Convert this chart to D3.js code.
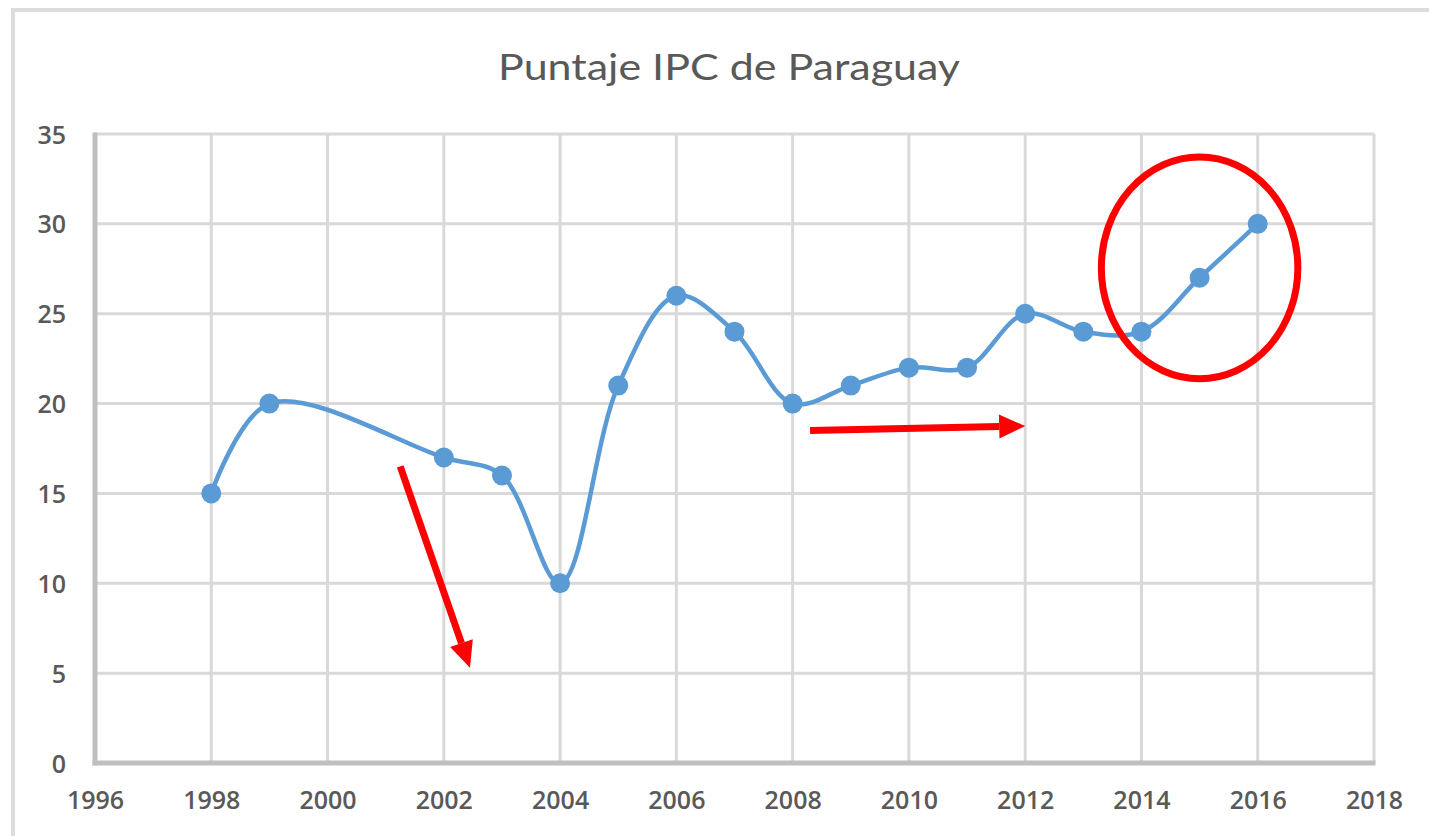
<!DOCTYPE html>
<html><head><meta charset="utf-8">
<script src="https://cdn.jsdelivr.net/npm/d3@7"></script>
<style>html,body{margin:0;padding:0;background:#fff;}svg{display:block;}</style>
</head><body>
<script>
const years  = [1998,1999,2002,2003,2004,2005,2006,2007,2008,2009,2010,2011,2012,2013,2014,2015,2016];
const scores = [15,20,17,16,10,21,26,24,20,21,22,22,25,24,24,27,30];
const xTicks = [1996,1998,2000,2002,2004,2006,2008,2010,2012,2014,2016,2018];
const yTicks = [0,5,10,15,20,25,30,35];
const title = "Puntaje IPC de Paraguay";
// annotations in data space
const arrows = [
  {from:[2001.25,16.5], to:[2002.45,5.3]},
  {from:[2008.3,18.5], to:[2012.0,18.75]}
];
const ellipse = {cx:2015.0, cy:27.55, rxYears:1.69, ryUnits:6.17};

const W=1429,H=836;
const svg=d3.select("body").append("svg").attr("width",W).attr("height",H);
svg.append("rect").attr("x",13).attr("y",10).attr("width",W+20).attr("height",H+20)
  .attr("fill","#fff").attr("stroke","#dcdcdc").attr("stroke-width",4);

const x=d3.scaleLinear().domain([1996,2018]).range([95,1374]);
const y=d3.scaleLinear().domain([0,35]).range([763,134]);

// gridlines
svg.append("g").selectAll("line").data(yTicks.filter(d=>d>0)).join("line")
  .attr("x1",x(1996)).attr("x2",x(2018)).attr("y1",d=>y(d)).attr("y2",d=>y(d))
  .attr("stroke","#d9d9d9").attr("stroke-width",3);
svg.append("g").selectAll("line").data(xTicks.filter(d=>d>1996)).join("line")
  .attr("x1",d=>x(d)).attr("x2",d=>x(d)).attr("y1",y(0)).attr("y2",y(35))
  .attr("stroke","#d9d9d9").attr("stroke-width",3);

// axes lines
svg.append("line").attr("x1",x(1996)).attr("x2",x(1996)).attr("y1",y(35)-1.5).attr("y2",y(0)+2.5)
  .attr("stroke","#bfbfbf").attr("stroke-width",5);
svg.append("line").attr("x1",x(1996)-2.5).attr("x2",x(2018)+1.5).attr("y1",y(0)).attr("y2",y(0))
  .attr("stroke","#bfbfbf").attr("stroke-width",5);

// axis labels
const xAxis=d3.axisBottom(x).tickValues(xTicks).tickFormat(d3.format("d")).tickSize(0).tickPadding(0);
const gx=svg.append("g").attr("transform",`translate(0,${y(0)})`).call(xAxis);
gx.select(".domain").remove();
gx.selectAll("text").attr("y",46).attr("dy",0)
  .attr("font-family","'Open Sans', sans-serif").attr("font-weight",600).attr("font-size",25).attr("fill","#595959");
const yAxis=d3.axisLeft(y).tickValues(yTicks).tickSize(0).tickPadding(0);
const gy=svg.append("g").attr("transform",`translate(${x(1996)},0)`).call(yAxis);
gy.select(".domain").remove();
gy.selectAll("text").attr("x",-29).attr("dy","0.36em")
  .attr("font-family","'Open Sans', sans-serif").attr("font-weight",600).attr("font-size",25).attr("fill","#595959");

// title
svg.append("text").attr("x",729).attr("y",80).attr("text-anchor","middle")
  .attr("font-family","Lato, sans-serif").attr("font-size",37).attr("fill","#595959")
  .attr("textLength",462).attr("lengthAdjust","spacingAndGlyphs").text(title);

// line
const data=years.map((d,i)=>({year:d,v:scores[i]}));
const line=d3.line().x(d=>x(d.year)).y(d=>y(d.v)).curve(d3.curveCatmullRom.alpha(0.5));
svg.append("path").datum(data).attr("d",line).attr("fill","none")
  .attr("stroke","#5b9bd5").attr("stroke-width",4.5).attr("stroke-linejoin","round");
svg.append("g").selectAll("circle").data(data).join("circle")
  .attr("cx",d=>x(d.year)).attr("cy",d=>y(d.v)).attr("r",10).attr("fill","#5b9bd5");

// annotations
const red="#ff0000";
arrows.forEach(a=>{
  const x1=x(a.from[0]),y1=y(a.from[1]),x2=x(a.to[0]),y2=y(a.to[1]);
  const ang=Math.atan2(y2-y1,x2-x1), hl=26, hw=12;
  const bx=x2-hl*Math.cos(ang), by=y2-hl*Math.sin(ang);
  svg.append("line").attr("x1",x1).attr("y1",y1).attr("x2",bx).attr("y2",by)
    .attr("stroke",red).attr("stroke-width",7);
  const px=-Math.sin(ang), py=Math.cos(ang);
  svg.append("path").attr("d",`M${x2},${y2}L${bx+px*hw},${by+py*hw}L${bx-px*hw},${by-py*hw}Z`).attr("fill",red);
});
svg.append("ellipse").attr("cx",x(ellipse.cx)).attr("cy",y(ellipse.cy))
  .attr("rx",x(ellipse.cx+ellipse.rxYears)-x(ellipse.cx))
  .attr("ry",y(0)-y(ellipse.ryUnits))
  .attr("fill","none").attr("stroke",red).attr("stroke-width",7);
</script>
</body></html>
